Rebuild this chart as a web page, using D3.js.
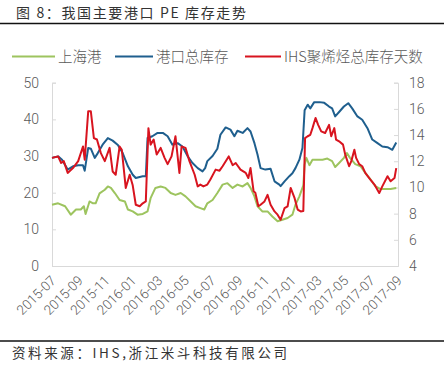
<!DOCTYPE html>
<html>
<head>
<meta charset="utf-8">
<script src="https://cdn.jsdelivr.net/npm/d3@7"></script>
<style>
  html, body { margin: 0; padding: 0; background: #fff; }
  svg { display: block; font-family: "Noto Sans CJK SC", "Noto Sans", sans-serif; }
</style>
</head>
<body>
<svg id="chart" width="444" height="365"></svg>
<script>
// 上海港 (left axis)
const shanghai = [
  ["2015-07-01",16.7],["2015-07-15",17.1],["2015-07-31",16.3],["2015-08-13",14.0],["2015-08-25",15.4],
  ["2015-09-05",15.4],["2015-09-12",16.3],["2015-09-16",14.2],["2015-09-25",17.6],["2015-10-03",17.1],
  ["2015-10-09",17.1],["2015-10-18",19.8],["2015-10-30",20.8],["2015-11-06",21.7],["2015-11-13",21.3],
  ["2015-11-22",19.9],["2015-12-03",18.0],["2015-12-15",17.6],["2015-12-22",15.4],["2016-01-02",14.9],
  ["2016-01-13",14.0],["2016-01-25",14.2],["2016-02-05",14.9],["2016-02-12",18.5],["2016-02-23",21.3],
  ["2016-03-06",21.7],["2016-03-17",21.3],["2016-03-29",19.9],["2016-04-09",19.4],["2016-04-21",19.9],
  ["2016-05-02",19.0],["2016-05-14",17.6],["2016-05-25",16.3],["2016-06-05",15.8],["2016-06-14",15.4],
  ["2016-06-21",17.1],["2016-07-03",18.0],["2016-07-14",19.9],["2016-07-26",22.2],["2016-08-06",22.6],
  ["2016-08-18",21.3],["2016-08-29",22.2],["2016-09-10",21.7],["2016-09-21",22.6],["2016-09-28",21.3],
  ["2016-10-07",19.0],["2016-10-14",16.3],["2016-10-25",14.9],["2016-11-06",14.9],["2016-11-17",13.5],
  ["2016-11-29",12.2],["2016-12-10",12.6],["2016-12-22",13.1],["2017-01-02",14.0],["2017-01-09",16.7],
  ["2017-01-18",19.0],["2017-01-27",22.0],["2017-01-30",27.6],["2017-02-03",29.5],["2017-02-10",27.5],
  ["2017-02-17",29.0],["2017-02-28",29.0],["2017-03-12",29.0],["2017-03-23",29.3],["2017-04-03",28.6],
  ["2017-04-10",27.0],["2017-04-19",28.1],["2017-04-30",29.5],["2017-05-07",30.8],["2017-05-14",29.5],
  ["2017-05-26",27.8],["2017-06-07",27.2],["2017-06-18",25.4],["2017-06-30",23.6],["2017-07-11",21.8],
  ["2017-07-23",21.0],["2017-08-03",21.0],["2017-08-15",21.0],["2017-08-28",21.3]
];

// 港口总库存 (left axis)
const portTotal = [
  ["2015-07-01",29.5],["2015-07-15",29.9],["2015-07-24",29.0],["2015-08-06",26.3],["2015-08-18",27.2],
  ["2015-08-30",27.5],["2015-09-10",27.5],["2015-09-14",26.0],["2015-09-22",32.2],["2015-09-28",32.0],
  ["2015-10-07",29.5],["2015-10-14",30.8],["2015-10-25",33.1],["2015-11-06",34.9],["2015-11-17",34.2],
  ["2015-11-29",33.0],["2015-12-10",30.8],["2015-12-22",27.2],["2016-01-02",24.9],["2016-01-09",24.0],
  ["2016-01-18",24.3],["2016-01-25",24.5],["2016-02-01",24.5],["2016-02-05",34.9],["2016-02-16",35.4],
  ["2016-02-28",36.3],["2016-03-11",36.3],["2016-03-22",35.4],["2016-04-02",33.1],["2016-04-14",33.5],
  ["2016-04-25",32.6],["2016-05-07",29.9],["2016-05-18",28.1],["2016-05-30",26.7],["2016-06-10",25.8],
  ["2016-06-16",26.7],["2016-06-21",28.6],["2016-07-03",30.0],["2016-07-14",32.0],["2016-07-21",35.8],
  ["2016-08-02",37.8],["2016-08-13",37.2],["2016-08-22",35.4],["2016-08-29",36.9],["2016-09-10",36.3],
  ["2016-09-21",37.6],["2016-09-28",36.7],["2016-10-07",33.5],["2016-10-14",30.4],["2016-10-21",26.7],
  ["2016-11-01",26.3],["2016-11-13",26.5],["2016-11-22",23.1],["2016-12-03",22.2],["2016-12-06",21.8],
  ["2016-12-15",23.1],["2016-12-26",24.5],["2017-01-02",25.3],["2017-01-09",26.7],["2017-01-18",29.0],
  ["2017-01-25",32.2],["2017-01-30",42.5],["2017-02-06",44.0],["2017-02-12",43.0],["2017-02-21",44.7],
  ["2017-03-05",44.7],["2017-03-16",44.5],["2017-03-27",43.5],["2017-04-03",43.0],["2017-04-10",40.8],
  ["2017-04-19",42.0],["2017-04-30",43.5],["2017-05-10",44.4],["2017-05-19",43.0],["2017-05-31",40.8],
  ["2017-06-11",39.9],["2017-06-23",37.6],["2017-07-04",34.5],["2017-07-16",33.5],["2017-07-27",32.6],
  ["2017-08-08",32.4],["2017-08-19",31.7],["2017-08-28",33.7]
];

// IHS聚烯烃总库存天数 (right axis)
const ihsDays = [
  ["2015-07-01",12.26],["2015-07-15",12.37],["2015-07-22",11.87],["2015-07-28",12.01],["2015-08-06",11.11],
  ["2015-08-18",11.48],["2015-08-30",12.01],["2015-09-10",13.13],["2015-09-14",12.12],["2015-09-22",15.82],
  ["2015-09-28",15.82],["2015-10-05",13.77],["2015-10-12",13.66],["2015-10-21",12.62],["2015-10-30",12.01],
  ["2015-11-10",13.02],["2015-11-17",11.22],["2015-11-24",10.97],["2015-12-03",13.13],["2015-12-08",12.88],
  ["2015-12-17",9.96],["2015-12-26",10.97],["2016-01-02",10.16],["2016-01-09",8.68],["2016-01-18",8.56],
  ["2016-01-25",8.79],["2016-02-01",8.93],["2016-02-07",14.53],["2016-02-12",13.27],["2016-02-19",13.66],
  ["2016-02-26",12.51],["2016-03-06",13.02],["2016-03-15",12.26],["2016-03-22",11.78],["2016-03-31",12.37],
  ["2016-04-09",13.91],["2016-04-18",11.11],["2016-04-23",13.13],["2016-05-02",13.02],["2016-05-11",12.01],
  ["2016-05-23",10.97],["2016-05-30",10.08],["2016-06-05",10.22],["2016-06-12",10.08],["2016-06-21",10.22],
  ["2016-06-28",10.61],["2016-07-10",11.36],["2016-07-19",11.28],["2016-07-26",11.62],["2016-08-09",12.37],
  ["2016-08-18",11.70],["2016-08-25",11.87],["2016-09-05",11.36],["2016-09-17",11.11],["2016-09-23",10.72],
  ["2016-09-28",11.48],["2016-10-05",9.71],["2016-10-09",9.60],["2016-10-16",8.56],["2016-10-21",8.68],
  ["2016-10-30",8.93],["2016-11-06",9.43],["2016-11-13",8.68],["2016-11-22",8.17],["2016-11-29",7.92],
  ["2016-12-06",7.53],["2016-12-15",8.42],["2016-12-22",8.56],["2016-12-29",9.96],["2017-01-07",9.18],
  ["2017-01-14",8.31],["2017-01-21",8.17],["2017-01-27",8.20],["2017-01-31",13.77],["2017-02-06",13.91],
  ["2017-02-12",14.02],["2017-02-17",14.53],["2017-02-24",15.31],["2017-03-02",14.78],["2017-03-09",14.28],
  ["2017-03-18",14.16],["2017-03-27",14.78],["2017-04-01",13.91],["2017-04-08",14.53],["2017-04-12",13.66],
  ["2017-04-19",13.52],["2017-04-28",13.27],["2017-05-03",12.51],["2017-05-12",11.62],["2017-05-17",12.01],
  ["2017-05-24",12.88],["2017-05-28",12.26],["2017-06-04",11.78],["2017-06-11",11.62],["2017-06-18",11.11],
  ["2017-06-27",10.72],["2017-07-09",10.22],["2017-07-20",9.57],["2017-07-27",10.08],["2017-08-08",10.86],
  ["2017-08-15",10.47],["2017-08-24",10.72],["2017-08-28",11.48]
];

const leftTicks = [0, 10, 20, 30, 40, 50];
const rightTicks = [4, 6, 8, 10, 12, 14, 16, 18];
const dateStart = "2015-07-01";
const dateEnd = "2017-09-01";

const titleText = "图 8：我国主要港口 PE 库存走势";
const sourceText = "资料来源：IHS,浙江米斗科技有限公司";
const seriesNames = ["上海港", "港口总库存", "IHS聚烯烃总库存天数"];
const seriesColors = ["#9dc45f", "#1f5f8e", "#d8141f"];

const parse = d3.timeParse("%Y-%m-%d");
const svg = d3.select("#chart");

const plot = {left: 52, right: 398, top: 82.7, bottom: 266};

let x = d3.scaleTime()
          .domain([parse(dateStart), parse(dateEnd)])
          .range([plot.left, plot.right]);
let yL = d3.scaleLinear()
           .domain([0, 50])
           .range([plot.bottom, plot.top]);
let yR = d3.scaleLinear()
           .domain([4, 18])
           .range([plot.bottom, plot.top]);

// title + rules
svg.append('text')
   .attr('x', 16)
   .attr('y', 18)
   .attr('font-size', '14px')
   .attr('fill', '#333')
   .attr('textLength', 230)
   .attr('lengthAdjust', 'spacing')
   .text(titleText);
svg.append('line')
   .attr('x1', 0).attr('x2', 444)
   .attr('y1', 23.5).attr('y2', 23.5)
   .attr('stroke', '#111')
   .attr('stroke-width', 1.5);
svg.append('line')
   .attr('x1', 0).attr('x2', 444)
   .attr('y1', 341).attr('y2', 341)
   .attr('stroke', '#111')
   .attr('stroke-width', 1.5);
svg.append('text')
   .attr('x', 12)
   .attr('y', 358)
   .attr('font-size', '13.5px')
   .attr('fill', '#333')
   .attr('textLength', 275)
   .attr('lengthAdjust', 'spacing')
   .text(sourceText);

// legend
const legendX = [12, 115, 245];
const legendW = [43, 38, 36];
seriesNames.forEach(function(name, i){
  svg.append('line')
     .attr('x1', legendX[i])
     .attr('x2', legendX[i] + legendW[i])
     .attr('y1', 56.5).attr('y2', 56.5)
     .attr('stroke', seriesColors[i])
     .attr('stroke-width', 2.2);
  svg.append('text')
     .attr('x', legendX[i] + legendW[i] + 3)
     .attr('y', 61.5)
     .attr('font-size', '14.5px')
     .attr('font-weight', 300)
     .attr('fill', '#595959')
     .text(name);
});

// axes
const axisColor = '#d9d9d9';
const leftAxis = svg.append('g')
   .attr('transform', `translate(${plot.left},0)`)
   .call(d3.axisLeft(yL).tickValues(leftTicks).tickSize(-4).tickPadding(13));
const rightAxis = svg.append('g')
   .attr('transform', `translate(${plot.right},0)`)
   .call(d3.axisRight(yR).tickValues(rightTicks).tickSize(-4).tickPadding(11));
[leftAxis, rightAxis].forEach(function(g){
  g.select('.domain').attr('stroke', axisColor);
  g.selectAll('.tick line').attr('stroke', axisColor);
  g.selectAll('.tick text')
   .attr('font-size', '14px')
   .attr('font-family', 'Roboto, "Noto Sans", sans-serif')
   .attr('font-weight', 300)
   .attr('fill', '#595959');
});
const bottomAxis = svg.append('g')
   .attr('transform', `translate(0,${plot.bottom})`)
   .call(d3.axisBottom(x)
           .ticks(d3.timeMonth.every(2))
           .tickFormat(d3.timeFormat('%Y-%m'))
           .tickSize(0)
           .tickSizeOuter(0));
bottomAxis.select('.domain').attr('stroke', axisColor);
bottomAxis.selectAll('.tick text')
   .attr('font-size', '13.5px')
   .attr('font-family', 'Roboto, "Noto Sans", sans-serif')
   .attr('font-weight', 300)
   .attr('fill', '#595959')
   .attr('text-anchor', 'end')
   .attr('x', 0)
   .attr('y', 0)
   .attr('dy', '0.35em')
   .attr('transform', 'translate(1,12) rotate(-45)');

// series
function lineFor(yScale){
  return d3.line()
           .x(function(d){ return x(parse(d[0])); })
           .y(function(d){ return yScale(d[1]); });
}
const seriesData = [shanghai, portTotal, ihsDays];
const seriesScale = [yL, yL, yR];
seriesData.forEach(function(data, i){
  svg.append('path')
     .attr('d', lineFor(seriesScale[i])(data))
     .attr('fill', 'none')
     .attr('stroke', seriesColors[i])
     .attr('stroke-width', 2)
     .attr('stroke-linejoin', 'round');
});
</script>
</body>
</html>
